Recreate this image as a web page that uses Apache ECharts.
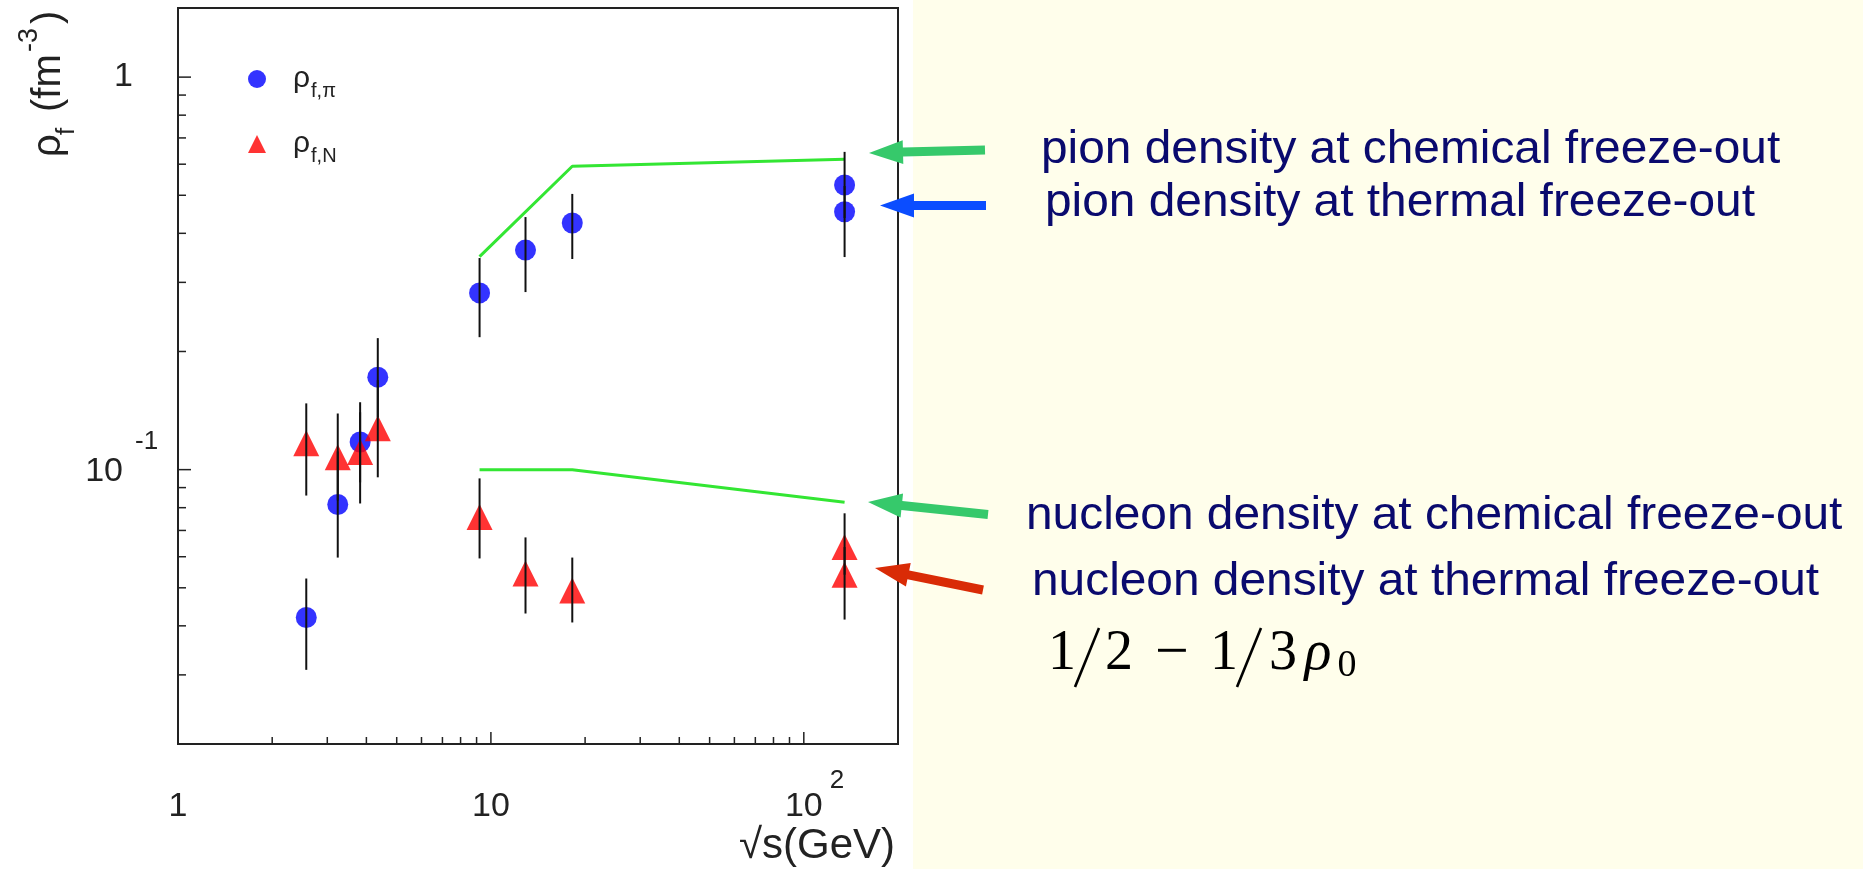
<!DOCTYPE html>
<html>
<head>
<meta charset="utf-8">
<title>Freeze-out densities</title>
<script src="https://cdn.jsdelivr.net/npm/echarts@6/dist/echarts.min.js"></script>
<style>
  html, body { margin: 0; padding: 0; background: #fff; }
  #chart { width: 1863px; height: 869px; }
</style>
</head>
<body>
<div id="chart"></div>
<script>
// sqrt(s) of each measurement, GeV (AGS, SPS, RHIC)
const sqrtS = [2.57, 3.24, 3.82, 4.35, 9.2, 12.9, 18.2, 135, 135];

// pion density at thermal freeze-out, fm^-3, with error bar ends
const rhoPi = [0.042, 0.0815, 0.1176, 0.172, 0.282, 0.3625, 0.425, 0.531, 0.454];
const rhoPiLow = [0.0309, 0.0597, 0.0928, 0.136, 0.2175, 0.2834, 0.344, 0.4375, 0.348];
const rhoPiHigh = [0.0528, 0.1113, 0.1485, 0.2163, 0.346, 0.44, 0.504, 0.645, 0.528];

// nucleon density at thermal freeze-out
const rhoN = [0.1167, 0.1076, 0.1109, 0.1274, 0.0757, 0.0544, 0.0492, 0.0635, 0.054];
const rhoNLow = [0.0859, 0.0835, 0.082, 0.0956, 0.0594, 0.043, 0.0408, 0.054, 0.0415];
const rhoNHigh = [0.1475, 0.139, 0.14, 0.169, 0.095, 0.0672, 0.0597, 0.0774, 0.0635];

// chemical freeze-out curves
const chemSqrtS = [9.2, 18.2, 135];
const chemPi = [0.349, 0.593, 0.618];
const chemN = [0.0999, 0.0999, 0.0826];

// axes
const xTickValues = [1, 10, 100];
const xTickLabels = ['1', '10', '10^2'];
const yTickValues = [0.1, 1];
const yTickLabels = ['10^-1', '1'];
const xMinorTicks = [2, 3, 4, 5, 6, 7, 8, 9, 20, 30, 40, 50, 60, 70, 80, 90];
const yMinorTicks = [0.03, 0.04, 0.05, 0.06, 0.07, 0.08, 0.09, 0.2, 0.3, 0.4, 0.5, 0.6, 0.7, 0.8, 0.9];

const X_MIN = 1, X_MAX = 200, Y_MIN = 0.02, Y_MAX = 1.5;
const SANS = '"Liberation Sans", Arial, sans-serif';
const SERIF = '"Liberation Serif", "Times New Roman", serif';
const INK = '#222';
const NAVY = '#0a0a6e';
const PION = 'ρf,π';
const NUCL = 'ρf,N';

const measureCtx = document.createElement('canvas').getContext('2d');
function textWidth(text, size) {
  measureCtx.font = size + 'px ' + SANS;
  return measureCtx.measureText(text).width;
}
function isDecade(v) {
  const l = Math.log10(v);
  return Math.abs(l - Math.round(l)) < 1e-9;
}

function renderXTick(params, api) {
  const v = api.value(0);
  const p = api.coord([v, Y_MIN]);
  const len = isDecade(v) ? 12 : 7;
  return { type: 'line', shape: { x1: p[0], y1: p[1], x2: p[0], y2: p[1] - len }, style: { stroke: INK, lineWidth: 1.5 } };
}
function renderYTick(params, api) {
  const v = api.value(1);
  const p = api.coord([X_MIN, v]);
  const len = isDecade(v) ? 13 : 8;
  return { type: 'line', shape: { x1: p[0], y1: p[1], x2: p[0] + len, y2: p[1] }, style: { stroke: INK, lineWidth: 1.5 } };
}
function renderXLabel(params, api) {
  const p = api.coord([api.value(0), Y_MIN]);
  const parts = xTickLabels[params.dataIndex].split('^');
  const cy = p[1] + 63;
  const children = [{ type: 'text', style: { text: parts[0], x: p[0], y: cy, align: 'center', verticalAlign: 'middle', font: '34px ' + SANS, fill: INK } }];
  if (parts[1]) {
    const w = textWidth(parts[0], 34);
    children.push({ type: 'text', style: { text: parts[1], x: p[0] + w / 2 + 7, y: cy - 26, align: 'left', verticalAlign: 'middle', font: '26px ' + SANS, fill: INK } });
  }
  return { type: 'group', children: children };
}
function renderYLabel(params, api) {
  const p = api.coord([X_MIN, api.value(1)]);
  const parts = yTickLabels[params.dataIndex].split('^');
  const children = [];
  if (parts[1]) {
    children.push({ type: 'text', style: { text: parts[0], x: p[0] - 55, y: p[1] + 2, align: 'right', verticalAlign: 'middle', font: '34px ' + SANS, fill: INK } });
    children.push({ type: 'text', style: { text: parts[1], x: p[0] - 43, y: p[1] - 28, align: 'left', verticalAlign: 'middle', font: '26px ' + SANS, fill: INK } });
  } else {
    children.push({ type: 'text', style: { text: parts[0], x: p[0] - 45, y: p[1], align: 'right', verticalAlign: 'middle', font: '34px ' + SANS, fill: INK } });
  }
  return { type: 'group', children: children };
}
function renderErr(params, api) {
  const top = api.coord([api.value(0), api.value(2)]);
  const bot = api.coord([api.value(0), api.value(1)]);
  return { type: 'line', shape: { x1: top[0], y1: top[1], x2: bot[0], y2: bot[1] }, style: { stroke: '#111', lineWidth: 2 } };
}

// arrow outline from tip to tail
function arrow(tip, tail, color) {
  const dx = tail[0] - tip[0], dy = tail[1] - tip[1];
  const L = Math.hypot(dx, dy), ux = dx / L, uy = dy / L, nx = -uy, ny = ux;
  const head = 34, hw = 12, sw = 4.5;
  const bx = tip[0] + ux * head, by = tip[1] + uy * head;
  const pts = [
    tip,
    [bx + nx * hw, by + ny * hw],
    [bx + nx * sw, by + ny * sw],
    [tail[0] + nx * sw, tail[1] + ny * sw],
    [tail[0] - nx * sw, tail[1] - ny * sw],
    [bx - nx * sw, by - ny * sw],
    [bx - nx * hw, by - ny * hw]
  ];
  return { type: 'polygon', shape: { points: pts }, style: { fill: color }, z: 5 };
}

function navyText(text, x, baseline) {
  return { type: 'text', x: x, y: baseline - 15, scaleX: 1.04, z: 5,
    style: { text: text, x: 0, y: 0, font: '46px ' + SANS, fill: NAVY, align: 'left', verticalAlign: 'middle' } };
}

// 1/2 - 1/3 rho_0, laid out glyph by glyph like the TeX original
const formula = [];
function fGlyph(text, x, y, font) {
  formula.push({ type: 'text', x: x, y: y, z: 5,
    style: { text: text, x: 0, y: 0, font: font, fill: '#000', align: 'center', verticalAlign: 'middle' } });
}
function fSlash(cx) {
  formula.push({ type: 'line', z: 5, shape: { x1: cx + 12, y1: 628, x2: cx - 12, y2: 687 }, style: { stroke: '#000', lineWidth: 2.6 } });
}
fGlyph('1', 1062, 654, '56px ' + SERIF);
fSlash(1087);
fGlyph('2', 1119, 654, '56px ' + SERIF);
fGlyph('\u2212', 1172, 654, '60px ' + SERIF);
fGlyph('1', 1224, 654, '56px ' + SERIF);
fSlash(1249);
fGlyph('3', 1283, 654, '56px ' + SERIF);
fGlyph('ρ', 1318, 654, 'italic 56px ' + SERIF);
fGlyph('0', 1347, 666, '38px ' + SERIF);

const yTitle = { type: 'group', x: 62, y: 157, rotation: Math.PI / 2, z: 5, children: [
  { type: 'text', x: 0, y: -13, style: { text: 'ρ', font: '40px ' + SANS, fill: INK, align: 'left', verticalAlign: 'middle' } },
  { type: 'text', x: 22, y: 5, style: { text: 'f', font: '26px ' + SANS, fill: INK, align: 'left', verticalAlign: 'middle' } },
  { type: 'text', x: 45, y: -13, style: { text: '(fm', font: '40px ' + SANS, fill: INK, align: 'left', verticalAlign: 'middle' } },
  { type: 'text', x: 105, y: -32, style: { text: '-3', font: '27px ' + SANS, fill: INK, align: 'left', verticalAlign: 'middle' } },
  { type: 'text', x: 133, y: -13, style: { text: ')', font: '40px ' + SANS, fill: INK, align: 'left', verticalAlign: 'middle' } }
] };

const chart = echarts.init(document.getElementById('chart'));
chart.setOption({
  animation: false,
  backgroundColor: '#fff',
  grid: { left: 178, top: 8, right: 965, bottom: 125, show: true, borderColor: '#222', borderWidth: 2, containLabel: false, outerBoundsMode: 'none' },
  xAxis: { type: 'log', logBase: 10, min: X_MIN, max: X_MAX, axisLine: { show: false }, axisTick: { show: false }, axisLabel: { show: false }, splitLine: { show: false } },
  yAxis: { type: 'log', logBase: 10, min: Y_MIN, max: Y_MAX, axisLine: { show: false }, axisTick: { show: false }, axisLabel: { show: false }, splitLine: { show: false } },
  legend: {
    orient: 'vertical', left: 243, top: 59, itemWidth: 18, itemHeight: 18, itemGap: 28,
    data: [{ name: PION, icon: 'circle' }, { name: NUCL, icon: 'triangle' }],
    formatter: name => name === PION ? '{a|ρ}{b|f,π}' : '{a|ρ}{b|f,N}',
    textStyle: {
      rich: {
        a: { fontSize: 30, fontFamily: SANS, color: INK, padding: [0, 0, 0, 22] },
        b: { fontSize: 20, fontFamily: SANS, color: INK, padding: [24, 0, 0, 1] }
      }
    }
  },
  graphic: { elements: [
    { type: 'rect', shape: { x: 913, y: 0, width: 950, height: 869 }, style: { fill: '#fffeeb' }, z: -1 },
    arrow([869, 153], [985, 150], '#36c96b'),
    arrow([880, 205.5], [986, 205.5], '#0b4dff'),
    arrow([868, 502], [988, 514.5], '#36c96b'),
    arrow([875, 568], [983, 590], '#d92b06'),
    navyText('pion density at chemical freeze-out', 1041, 165),
    navyText('pion density at thermal freeze-out', 1045, 218),
    navyText('nucleon density at chemical freeze-out', 1026, 531),
    navyText('nucleon density at thermal freeze-out', 1032, 597),
    yTitle,
    { type: 'text', x: 895, y: 846, z: 5, style: { text: '√s(GeV)', x: 0, y: 0, font: '42px ' + SANS, fill: INK, align: 'right', verticalAlign: 'middle' } }
  ].concat(formula) },
  series: [
    { type: 'custom', name: 'xticks', renderItem: renderXTick, data: xMinorTicks.concat(xTickValues).map(v => [v, Y_MIN]), silent: true, z: 4 },
    { type: 'custom', name: 'yticks', renderItem: renderYTick, data: yMinorTicks.concat(yTickValues).map(v => [X_MIN, v]), silent: true, z: 4 },
    { type: 'custom', name: 'xlabels', renderItem: renderXLabel, data: xTickValues.map(v => [v, Y_MIN]), silent: true, z: 4 },
    { type: 'custom', name: 'ylabels', renderItem: renderYLabel, data: yTickValues.map(v => [X_MIN, v]), silent: true, z: 4 },
    { type: 'line', name: 'chemPi', data: chemSqrtS.map((x, i) => [x, chemPi[i]]), symbol: 'none', lineStyle: { color: '#33e633', width: 3 }, silent: true, z: 2 },
    { type: 'line', name: 'chemN', data: chemSqrtS.map((x, i) => [x, chemN[i]]), symbol: 'none', lineStyle: { color: '#33e633', width: 3 }, silent: true, z: 2 },
    { type: 'scatter', name: PION, data: sqrtS.map((x, i) => [x, rhoPi[i]]), symbol: 'circle', symbolSize: 21, itemStyle: { color: '#0000ff' }, z: 3 },
    { type: 'scatter', name: NUCL, data: sqrtS.map((x, i) => [x, rhoN[i]]), symbol: 'triangle', symbolSize: 26, itemStyle: { color: '#ff0000' }, z: 3 },
    { type: 'custom', name: 'errPi', renderItem: renderErr, data: sqrtS.map((x, i) => [x, rhoPiLow[i], rhoPiHigh[i]]), silent: true, z: 4 },
    { type: 'custom', name: 'errN', renderItem: renderErr, data: sqrtS.map((x, i) => [x, rhoNLow[i], rhoNHigh[i]]), silent: true, z: 4 }
  ]
});
</script>
</body>
</html>
